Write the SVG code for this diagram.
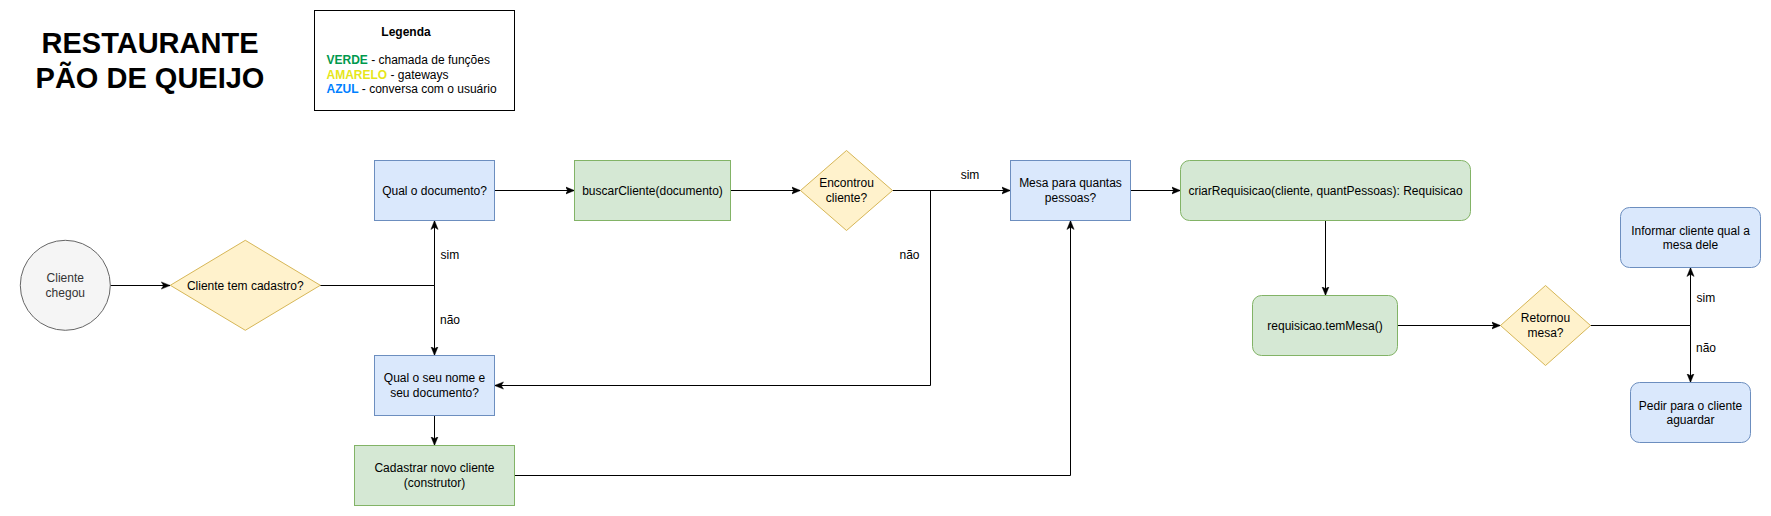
<svg xmlns="http://www.w3.org/2000/svg" width="1771" height="516" viewBox="0 0 1771 516">
<style>
  text { font-family: "Liberation Sans", Arial, Helvetica, sans-serif; font-size: 12px; fill: #000; }
  .c { text-anchor: middle; }
  .title { font-size: 29px; font-weight: bold; text-anchor: middle; }
  .b { font-weight: bold; }
  .blue { fill: #dae8fc; stroke: #6c8ebf; stroke-width: 1; }
  .green { fill: #d5e8d4; stroke: #82b366; stroke-width: 1; }
  .yellow { fill: #fff2cc; stroke: #d6b656; stroke-width: 1; }
  .grey { fill: #f5f5f5; stroke: #666666; stroke-width: 1; }
  .edge { fill: none; stroke: #000; stroke-width: 1; }
  .arrow { marker-end: url(#arr); }
</style>
<defs>
  <marker id="arr" markerUnits="userSpaceOnUse" viewBox="0 0 10 10" refX="10" refY="5" markerWidth="9" markerHeight="9" orient="auto">
    <path d="M0,1 L10,5 L0,9 L2.5,5 z" fill="#000" stroke="#000" stroke-width="0.5"/>
  </marker>
</defs>
<rect width="1771" height="516" fill="#fff"/>

<g id="title">
  <text class="title" x="150" y="53">RESTAURANTE</text>
  <text class="title" x="150" y="87.5">PÃO DE QUEIJO</text>
</g>

<g id="legenda">
  <rect x="314.5" y="10.5" width="200" height="100" fill="#fff" stroke="#000" stroke-width="1"/>
  <text class="c b" x="406" y="35.5">Legenda</text>
  <text x="326.5" y="64"><tspan class="b" fill="#00994d">VERDE</tspan> - chamada de funções</text>
  <text x="326.5" y="78.5"><tspan class="b" fill="#e6e61a">AMARELO</tspan> - gateways</text>
  <text x="326.5" y="93"><tspan class="b" fill="#007fff">AZUL</tspan> - conversa com o usuário</text>
</g>

<g id="connectors">
  <path class="edge arrow" d="M110.3,285.5 L170.3,285.5"/>
  <path class="edge arrow" d="M320.3,285.5 L434.5,285.5 L434.5,220.5"/>
  <path class="edge arrow" d="M320.3,285.5 L434.5,285.5 L434.5,355.5"/>
  <path class="edge arrow" d="M494.5,190.5 L574.5,190.5"/>
  <path class="edge arrow" d="M730.5,190.5 L800.5,190.5"/>
  <path class="edge arrow" d="M892.5,190.5 L1010.5,190.5"/>
  <path class="edge arrow" d="M892.5,190.5 L930.5,190.5 L930.5,385.5 L494.5,385.5"/>
  <path class="edge arrow" d="M434.5,415.5 L434.5,445.5"/>
  <path class="edge arrow" d="M514.5,475.5 L1070.5,475.5 L1070.5,220.5"/>
  <path class="edge arrow" d="M1130.5,190.5 L1180.5,190.5"/>
  <path class="edge arrow" d="M1325.5,220.5 L1325.5,295.5"/>
  <path class="edge arrow" d="M1397.5,325.5 L1500.5,325.5"/>
  <path class="edge arrow" d="M1590.5,325.5 L1690.5,325.5 L1690.5,267.5"/>
  <path class="edge arrow" d="M1590.5,325.5 L1690.5,325.5 L1690.5,382.5"/>
  <text x="440.5" y="259">sim</text>
  <text x="440" y="324">não</text>
  <text class="c" x="970" y="178.5">sim</text>
  <text class="c" x="909.5" y="258.5">não</text>
  <text x="1696.5" y="301.5">sim</text>
  <text x="1696" y="351.5">não</text>
</g>

<g id="cliente-chegou">
  <circle class="grey" cx="65.3" cy="285.3" r="45"/>
  <text class="c" x="65.3" y="282" style="fill:#333333">Cliente</text>
  <text class="c" x="65.3" y="296.5" style="fill:#333333">chegou</text>
</g>

<g id="cliente-tem-cadastro">
  <path class="yellow" d="M245.3,240.3 L320.3,285.3 L245.3,330.3 L170.3,285.3 Z"/>
  <text class="c" x="245.3" y="289.5">Cliente tem cadastro?</text>
</g>

<g id="qual-documento">
  <rect class="blue" x="374.5" y="160.5" width="120" height="60"/>
  <text class="c" x="434.5" y="194.5">Qual o documento?</text>
</g>

<g id="qual-nome">
  <rect class="blue" x="374.5" y="355.5" width="120" height="60"/>
  <text class="c" x="434.5" y="382">Qual o seu nome e</text>
  <text class="c" x="434.5" y="396.5">seu documento?</text>
</g>

<g id="cadastrar">
  <rect class="green" x="354.5" y="445.5" width="160" height="60"/>
  <text class="c" x="434.5" y="472">Cadastrar novo cliente</text>
  <text class="c" x="434.5" y="486.5">(construtor)</text>
</g>

<g id="buscar-cliente">
  <rect class="green" x="574.5" y="160.5" width="156" height="60"/>
  <text class="c" x="652.5" y="194.5">buscarCliente(documento)</text>
</g>

<g id="encontrou-cliente">
  <path class="yellow" d="M846.5,150.5 L892.5,190.5 L846.5,230.5 L800.5,190.5 Z"/>
  <text class="c" x="846.5" y="187">Encontrou</text>
  <text class="c" x="846.5" y="201.5">cliente?</text>
</g>

<g id="mesa-quantas">
  <rect class="blue" x="1010.5" y="160.5" width="120" height="60"/>
  <text class="c" x="1070.5" y="187">Mesa para quantas</text>
  <text class="c" x="1070.5" y="201.5">pessoas?</text>
</g>

<g id="criar-requisicao">
  <rect class="green" x="1180.5" y="160.5" width="290" height="60" rx="9" ry="9"/>
  <text class="c" x="1325.5" y="194.5">criarRequisicao(cliente, quantPessoas): Requisicao</text>
</g>

<g id="tem-mesa">
  <rect class="green" x="1252.5" y="295.5" width="145" height="60" rx="9" ry="9"/>
  <text class="c" x="1325" y="329.5">requisicao.temMesa()</text>
</g>

<g id="retornou-mesa">
  <path class="yellow" d="M1545.5,285.5 L1590.5,325.5 L1545.5,365.5 L1500.5,325.5 Z"/>
  <text class="c" x="1545.5" y="322">Retornou</text>
  <text class="c" x="1545.5" y="336.5">mesa?</text>
</g>

<g id="informar-mesa">
  <rect class="blue" x="1620.5" y="207.5" width="140" height="60" rx="9" ry="9"/>
  <text class="c" x="1690.5" y="234.5">Informar cliente qual a</text>
  <text class="c" x="1690.5" y="249">mesa dele</text>
</g>

<g id="pedir-aguardar">
  <rect class="blue" x="1630.5" y="382.5" width="120" height="60" rx="9" ry="9"/>
  <text class="c" x="1690.5" y="409.5">Pedir para o cliente</text>
  <text class="c" x="1690.5" y="424">aguardar</text>
</g>
</svg>
